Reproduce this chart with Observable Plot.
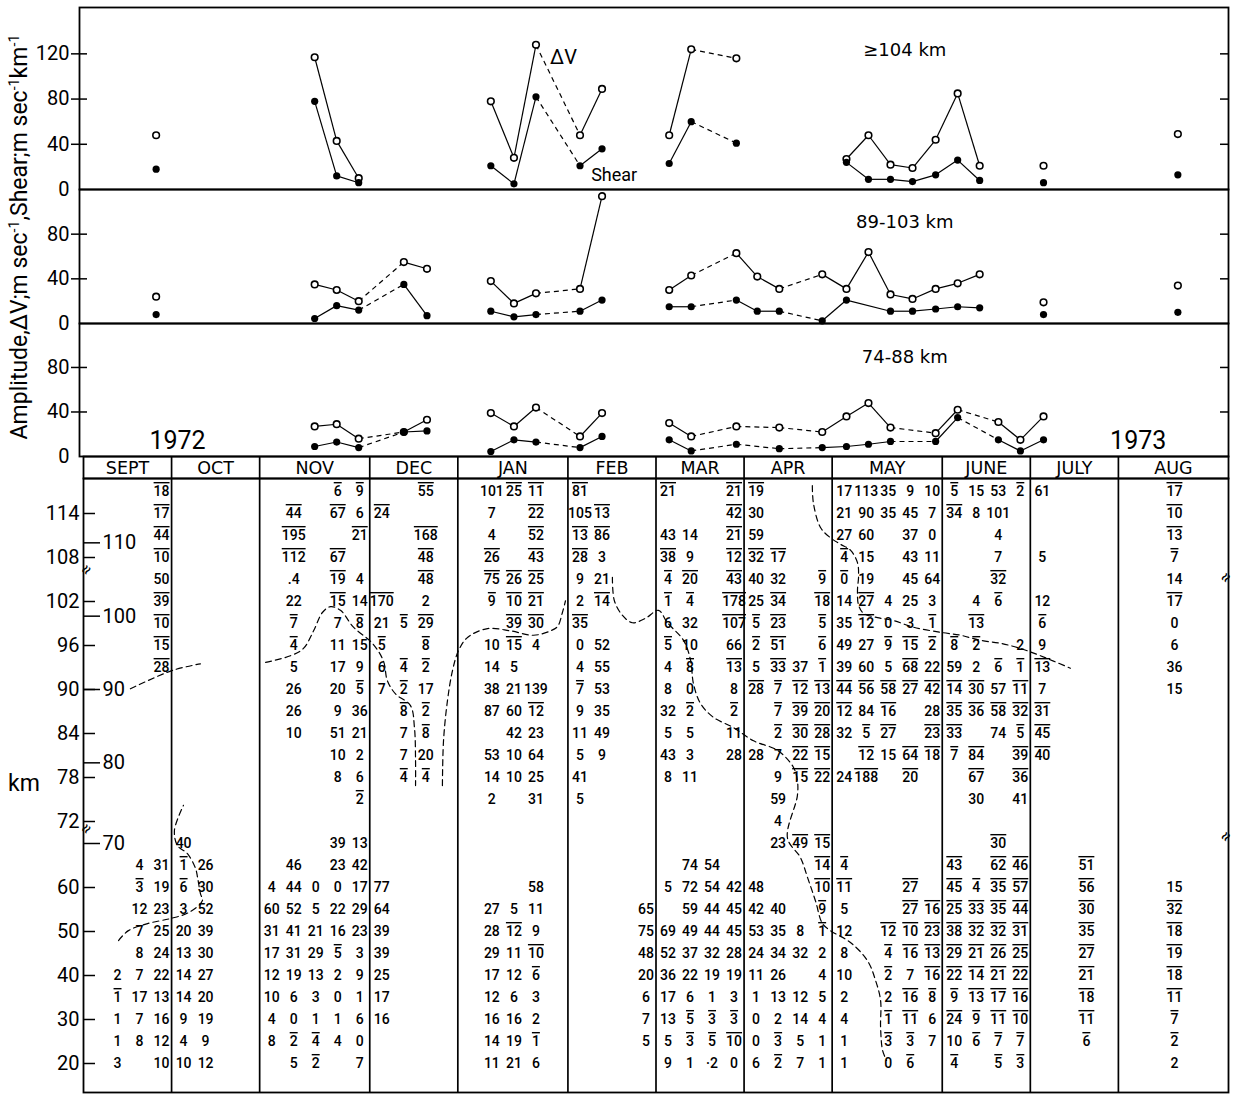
<!DOCTYPE html>
<html><head><meta charset="utf-8">
<script src="https://cdn.jsdelivr.net/npm/d3@7"></script>
<script src="https://cdn.jsdelivr.net/npm/@observablehq/plot@0.6"></script>
<style>
body{margin:0;background:#fff;}
#wrap{position:relative;width:1234px;height:1096px;overflow:hidden;font-family:Roboto,"Liberation Sans",sans-serif;color:#000;}
.layer{position:absolute;left:0;}
#ylab{position:absolute;left:19px;top:237px;transform:translate(-50%,-50%) rotate(-90deg);white-space:nowrap;font-size:23px;line-height:1;}
#ylab sup{font-size:0.62em;vertical-align:0.55em;line-height:0;}
#km{position:absolute;left:8px;top:770px;font-size:23px;}
</style></head><body><div id="wrap">
<div id="ylab">Amplitude,ΔV;m sec<sup>-1</sup>,Shear;m sec<sup>-1</sup>km<sup>-1</sup></div>
<div id="km">km</div>
</div>
<script>
// ---------- top panels: observation dates (in week units, Sept 1972 = week 0) ----------
const obsWeek = [3.3, 10.5, 11.5, 12.5, 14.55, 15.6, 18.5, 19.55, 20.55, 22.55, 23.55, 26.6, 27.6, 29.65, 30.6, 31.6, 33.55, 34.65, 35.65, 36.65, 37.65, 38.7, 39.7, 40.7, 41.55, 42.55, 43.6, 49.7];
const _ = null;
const dv104    = [48, 117, 43, 10, _, _, 78, 28, 128, 48, 89, 48, 124, 116, _, _, _, 27, 48, 22, 19, 44, 85, 21, _, _, 21, 49];
const shear104 = [18, 78, 12, 6, _, _, 21, 5, 82, 21, 36, 23, 60, 41, _, _, _, 24, 9, 9, 7, 13, 26, 8, _, _, 6, 13];
const dv89     = [24, 35, 30, 20, 55, 49, 38, 18, 27, 31, 114, 30, 43, 63, 42, 31, 44, 31, 64, 26, 22, 31, 36, 44, _, _, 19, 34];
const shear89  = [8, 4.5, 16, 12, 35, 7, 11, 6, 8, 11, 21, 15, 15, 21, 11, 11, 2.4, 21, _, 11, 11, 13, 15, 14, _, _, 8, 10];
const dv74     = [_, 27, 29, 16, 22, 33, 39, 27, 44, 18, 39, 30, 18, 27, _, 26, 22, 36, 48, 26, _, 21, 42, _, 31, 15, 36, _];
const shear74  = [_, 9, 13, 8, 22, 23, 4.5, 15, 13, 8, 18, 15, 5, 11, _, 7, 8, 9, 11, 13.5, _, 13.5, 35, _, 15, 5, 15, _];
const panelTitles = ["≥104 km", "89-103 km", "74-88 km"];
const panelTitleWeek = 37.3;
const ticks104 = [0, 40, 80, 120];
const ticksLow = [0, 40, 80];
const seriesLabels = [{w: 21.8, v: 117, text: "ΔV", size: 20}, {w: 24.1, v: 12.5, text: "Shear", size: 18}];
const yearLabels = [{w: 4.27, v: 13.5, text: "1972", size: 25}, {w: 47.9, v: 14.3, text: "1973", size: 25}];

// ---------- table ----------
const months = ["SEPT","OCT","NOV","DEC","JAN","FEB","MAR","APR","MAY","JUNE","JULY","AUG"];
const monthStart = [0, 4, 8, 13, 17, 22, 26, 30, 34, 39, 43, 47];
const monthEnd   = [4, 8, 13, 17, 22, 26, 30, 34, 39, 43, 47, 52];
const tableKm = [117,114,111,108,105,102,99,96,93,90,87,84,81,78,75,72,70,65,60,55,50,45,40,35,30,25,20];
// "week:value", ^ = overbarred value
const tableCells = [
 "3:^18 11:^6 12:^9 15:^55 18:101 19:^25 20:^11 22:^81 26:^21 29:^21 30:^19 34:17 35:113 36:35 37:9 38:10 39:^5 40:15 41:53 42:^2 43:61 49:^17",
 "3:^17 9:^44 11:^67 12:6 13:^24 18:7 20:^22 22:105 23:^13 29:^42 30:30 34:21 35:90 36:35 37:45 38:7 39:^34 40:8 41:101 49:^10",
 "3:^44 9:^195 12:^21 15:^168 18:4 20:^52 22:^13 23:^86 26:43 27:14 29:^21 30:59 34:27 35:60 37:37 38:0 41:4 49:^13",
 "3:^10 9:^112 11:^67 15:^48 18:^26 20:^43 22:^28 23:3 26:^38 27:9 29:^12 30:^32 31:^17 34:^4 35:15 37:43 38:11 41:7 43:5 49:^7",
 "3:50 9:.4 11:^19 12:4 15:^48 18:^75 19:^26 20:^25 22:9 23:21 26:^4 27:^20 29:^43 30:40 31:32 33:^9 34:^0 35:19 37:45 38:64 41:^32 49:14",
 "3:^39 9:22 11:^15 12:14 13:^170 15:2 18:^9 19:^10 20:^21 22:2 23:^14 26:^1 27:^4 29:^178 30:25 31:^34 33:^18 34:14 35:^27 36:4 37:25 38:3 40:4 41:^6 43:12 49:^17",
 "3:^10 9:^7 11:7 12:^8 13:21 14:^5 15:^29 19:^39 20:^30 22:^35 26:6 27:32 29:^107 30:^5 31:^23 33:^5 34:35 35:^12 36:0 37:3 38:^1 40:^13 43:^6 49:0",
 "3:^15 9:^4 11:11 12:15 13:^5 15:^8 18:10 19:^15 20:4 22:0 23:52 26:^5 27:10 29:66 30:^2 31:^51 33:^6 34:49 35:27 36:^9 37:^15 38:^2 39:^8 40:^2 42:2 43:9 49:6",
 "3:^28 9:5 11:17 12:9 13:6 14:^4 15:^2 18:14 19:5 22:4 23:55 26:4 27:^8 29:^13 30:5 31:^33 32:37 33:^1 34:39 35:60 36:5 37:^68 38:22 39:59 40:2 41:^6 42:^1 43:^13 49:36",
 "9:26 11:20 12:^5 13:7 14:^2 15:17 18:38 19:21 20:139 22:^7 23:53 26:8 27:0 29:8 30:^28 31:^7 32:^12 33:^13 34:^44 35:^56 36:^58 37:^27 38:^42 39:^14 40:^30 41:57 42:^11 43:7 49:15",
 "9:26 11:9 12:36 14:^8 15:^2 18:87 19:60 20:^12 22:9 23:35 26:32 27:^2 29:^2 31:^7 32:^39 33:^20 34:^12 35:84 36:^16 38:28 39:^35 40:^36 41:^58 42:^32 43:^31",
 "9:10 11:51 12:21 14:7 15:^8 19:42 20:23 22:11 23:49 26:5 27:5 29:11 31:^2 32:^30 33:^28 34:32 35:^5 36:^27 38:^23 39:^33 41:74 42:^5 43:^45",
 "11:10 12:2 14:7 15:20 18:53 19:10 20:64 22:5 23:9 26:43 27:3 29:28 30:28 31:7 32:^22 33:^15 35:^12 36:15 37:^64 38:^18 39:^7 40:^84 42:^39 43:^40",
 "11:8 12:6 14:^4 15:^4 18:14 19:10 20:25 22:41 26:8 27:11 31:9 32:^15 33:^22 34:24 35:^188 37:^20 40:^67 42:^36",
 "12:^2 18:2 20:31 22:5 31:59 40:30 42:41",
 "31:4",
 "4:40 11:39 12:13 31:23 32:^49 33:^15 41:^30",
 "2:4 3:31 4:^1 5:26 9:46 11:23 12:42 27:74 28:54 33:^14 34:^4 39:^43 41:^62 42:^46 45:^51",
 "2:^3 3:19 4:^6 5:30 8:4 9:44 10:0 11:0 12:17 13:77 20:58 26:5 27:72 28:54 29:42 30:48 33:^10 34:^11 37:^27 39:^45 40:^4 41:^35 42:^57 45:^56 49:15",
 "2:12 3:23 4:3 5:52 8:60 9:52 10:5 11:22 12:29 13:64 18:27 19:5 20:11 25:65 27:59 28:44 29:45 30:42 31:40 33:^9 34:5 37:^27 38:^16 39:^25 40:^33 41:^35 42:^44 45:^30 49:^32",
 "2:7 3:25 4:20 5:39 8:31 9:41 10:21 11:16 12:23 13:39 18:28 19:^12 20:9 25:75 26:69 27:49 28:44 29:45 30:53 31:35 32:8 33:^1 34:12 36:^12 37:^10 38:^23 39:^38 40:^32 41:^32 42:^31 45:^35 49:^18",
 "2:8 3:24 4:13 5:30 8:17 9:31 10:29 11:^5 12:3 13:39 18:29 19:11 20:^10 25:48 26:52 27:37 28:32 29:28 30:24 31:34 32:32 33:2 34:8 36:^4 37:^16 38:^13 39:^29 40:^21 41:^26 42:^25 45:^27 49:^19",
 "1:2 2:7 3:22 4:14 5:27 8:12 9:19 10:13 11:2 12:9 13:25 18:17 19:12 20:^6 25:20 26:36 27:22 28:19 29:19 30:11 31:26 33:4 34:10 36:^2 37:7 38:^16 39:^22 40:^14 41:^21 42:^22 45:^21 49:^18",
 "1:^1 2:17 3:13 4:14 5:20 8:10 9:6 10:3 11:0 12:1 13:17 18:12 19:6 20:3 25:6 26:17 27:6 28:1 29:3 30:1 31:13 32:12 33:5 34:2 36:2 37:^16 38:^8 39:^9 40:^13 41:^17 42:^16 45:^18 49:^11",
 "1:1 2:7 3:16 4:9 5:19 8:4 9:0 10:1 11:1 12:6 13:16 18:16 19:16 20:2 25:7 26:13 27:^5 28:^3 29:^3 30:0 31:2 32:14 33:4 34:4 36:^1 37:^11 38:6 39:^24 40:^9 41:^11 42:^10 45:^11 49:^7",
 "1:1 2:8 3:12 4:4 5:9 8:8 9:^2 10:^4 11:4 12:0 18:14 19:19 20:^1 25:5 26:5 27:^3 28:^5 29:^10 30:0 31:^3 32:5 33:1 34:1 36:^3 37:^3 38:7 39:10 40:^6 41:^7 42:^7 45:^6 49:^2",
 "1:3 3:10 4:10 5:12 9:5 10:^2 12:7 18:11 19:21 20:6 26:9 27:1 28:·2 29:0 30:6 31:^2 32:7 33:1 34:1 36:0 37:^6 39:^4 41:^5 42:^3 49:2"
];
const outerTickKm = [114,108,102,96,90,84,78,72,60,50,40,30,20];
const innerTickKm = [110,100,90,80,70];
const breakKm = [105.8, 71];
// dashed boundary curves: [week, km]
const contourA1 = [[2.13,90.1],[4.04,92.6],[5.31,93.5]];
const contourA2 = [[8.27,93.7],[9.4,94.6],[9.99,95.6],[10.45,98.0],[10.85,100.5],[11.22,101.3],[11.67,100.8],[12.26,98.5],[13.12,96.3],[13.62,93.9],[13.8,91.2],[14.17,89.4],[14.85,87.8],[15.03,84.8],[15.08,80.3],[15.08,76.9]];
const contourB = [[16.3,76.9],[16.35,83.0],[16.53,88.5],[16.76,92.6],[17.03,95.3],[17.44,97.1],[18.35,98.3],[19.39,98.0],[20.44,97.4],[21.21,98.0],[21.53,98.6],[21.75,100.5],[21.89,102.1]];
const contourC = [[24.02,105.3],[24.11,102.1],[24.48,100.1],[24.93,99.1],[25.52,99.7],[26.11,100.8],[26.52,99.1],[27.25,96.7],[27.57,94.0],[27.7,90.8],[28.02,88.1],[28.61,86.2],[29.52,84.8],[30.43,83.0],[31.52,81.7],[32.24,79.4],[32.42,77.6],[32.42,75.5],[31.97,70.5],[32.56,66.8],[32.88,62.3],[33.24,57.0],[33.56,51.8],[33.92,50.2],[34.83,47.5],[35.6,43.4],[35.97,38.9],[36.2,34.3],[36.2,28.2],[36.29,23.0],[36.47,20.7]];
const contourD = [[33.1,117.8],[33.15,115.4],[33.47,112.1],[33.92,110.7],[34.38,109.8],[34.83,109.0],[35.15,107.3],[35.2,105.5],[35.15,103.5],[35.2,101.5],[35.42,100.4],[36.06,99.8],[36.78,99.4],[37.69,98.5],[38.92,97.8],[39.83,97.4],[40.74,96.7],[41.64,96.3],[42.55,95.6],[43.46,94.6],[44.82,92.9]];
const contourE = [[1.59,47.95],[2.04,50.2],[2.91,51.8],[3.95,52.95],[4.77,54.3],[5.4,57.0],[5.31,58.6],[5.18,62.3],[5.09,64.3],[4.72,67.7],[4.27,69.5],[4.13,71.2],[4.54,74.2]];

// ---------- helpers ----------
const wrap = document.getElementById("wrap");
function place(node, top) { const d = document.createElement("div"); d.className = "layer"; d.style.top = top + "px"; d.appendChild(node); wrap.appendChild(d); }
const baseStyle = {background: "transparent", overflow: "visible", fontFamily: "Roboto, 'Liberation Sans', sans-serif", color: "black"};
const W = 1234, ML = 79, MR = 6;
const frameW = W - ML - MR;

function segmentsOf(vals, ref) {
  const idx = vals.map((v, i) => v == null ? -1 : i).filter(i => i >= 0);
  const segs = [];
  for (let k = 1; k < idx.length; k++) {
    const i = idx[k - 1], j = idx[k];
    const gap = obsWeek[j] - obsWeek[i];
    if (gap > 2.6) continue;
    let dashed = gap > 1.3;
    if (dashed && ref) for (let m = i + 1; m < j; m++) if (ref[m] != null) dashed = false;
    segs.push({x1: obsWeek[i], y1: vals[i], x2: obsWeek[j], y2: vals[j], dashed});
  }
  return segs;
}

function panel(cfg) {
  const dvPts = obsWeek.map((w, i) => ({w, v: cfg.dv[i]})).filter(d => d.v != null);
  const shPts = obsWeek.map((w, i) => ({w, v: cfg.sh[i]})).filter(d => d.v != null);
  const segs = [...segmentsOf(cfg.dv, null), ...segmentsOf(cfg.sh, cfg.dv)];
  const inner = cfg.ticks.filter(t => t > 0);
  const link = {x1: "x1", y1: "y1", x2: "x2", y2: "y2", stroke: "black", strokeWidth: 1.2};
  return Plot.plot({
    width: W, height: cfg.height, marginLeft: ML, marginRight: MR, marginTop: cfg.marginTop, marginBottom: 0,
    x: {domain: [-0.18, 52], axis: null},
    y: {domain: [0, cfg.yMax], axis: null},
    style: baseStyle,
    marks: [
      Plot.ruleY(inner, {y: d => d, insetLeft: -8, insetRight: frameW - 8, strokeWidth: 1.5}),
      Plot.ruleY(inner, {y: d => d, insetLeft: frameW - 8, strokeWidth: 1.5}),
      Plot.text(cfg.ticks, {y: d => d, text: d => String(d), frameAnchor: "left", dx: -10, textAnchor: "end", fontSize: 20}),
      Plot.link(segs.filter(s => !s.dashed), link),
      Plot.link(segs.filter(s => s.dashed), {...link, strokeDasharray: "5,4"}),
      Plot.dot(dvPts, {x: "w", y: "v", r: 3.3, fill: "white", stroke: "black", strokeWidth: 1.6}),
      Plot.dot(shPts, {x: "w", y: "v", r: 3.6, fill: "black", stroke: "none"}),
      Plot.text([cfg.title], {x: () => panelTitleWeek, text: d => d, frameAnchor: "top", dy: cfg.titleDy, fontSize: 18, fontFamily: "DejaVu Sans"}),
      Plot.text(cfg.labels || [], {x: "w", y: "v", text: "text", fontSize: d => d.size}),
      Plot.frame({stroke: "black", strokeWidth: 1.8})
    ]
  });
}

place(panel({dv: dv104, sh: shear104, title: panelTitles[0], height: 189, marginTop: 7, yMax: 161, ticks: ticks104, titleDy: 36, labels: seriesLabels}), 0);
place(panel({dv: dv89, sh: shear89, title: panelTitles[1], height: 134, marginTop: 0, yMax: 120, ticks: ticksLow, titleDy: 26}), 189);
place(panel({dv: dv74, sh: shear74, title: panelTitles[2], height: 133, marginTop: 0, yMax: 119.5, ticks: ticksLow, titleDy: 27, labels: yearLabels}), 323);

// ---------- header ----------
const boundaries = monthStart.slice(1);
place(Plot.plot({
  width: W, height: 22, marginLeft: 83, marginRight: MR, marginTop: 0, marginBottom: 0,
  x: {domain: [0, 52], axis: null}, y: {axis: null},
  style: baseStyle,
  marks: [
    Plot.ruleX(boundaries, {x: d => d, strokeWidth: 1.7}),
    Plot.text(months, {x: (d, i) => (monthStart[i] + monthEnd[i]) / 2, text: d => d, frameAnchor: "middle", fontSize: 17.5, fontFamily: "DejaVu Sans", dy: 1}),
    Plot.frame({stroke: "black", strokeWidth: 1.8})
  ]
}), 456);

// ---------- table body ----------
function rowOf(km) { return km >= 72 ? (117 - km) / 3 : km >= 70 ? 15 + (72 - km) / 2 : 16 + (70 - km) / 5; }
const cells = [];
tableKm.forEach((km, r) => tableCells[r].split(/\s+/).filter(Boolean).forEach(tok => {
  const k = tok.indexOf(":");
  const w = +tok.slice(0, k), v = tok.slice(k + 1);
  const bar = v.startsWith("^");
  cells.push({km, w, text: bar ? v.slice(1) : v, bar});
}));
const contours = [contourA1, contourA2, contourB, contourC, contourD, contourE]
  .flatMap((c, id) => c.map(([w, km]) => ({id, w, km})));
const bodyW = W - 83 - MR;
const cellOpts = {x: d => d.w + 0.5, y: d => rowOf(d.km), text: "text", fontSize: 14, fontWeight: 500, dx: 1};
const body = Plot.plot({
  width: W, height: 618, marginLeft: 83, marginRight: MR, marginTop: 0, marginBottom: 4,
  x: {domain: [0, 52], axis: null},
  y: {domain: [0, 26], range: [13, 585], axis: null},
  style: baseStyle,
  marks: [
    Plot.ruleX(boundaries, {x: d => d, strokeWidth: 1.7}),
    Plot.ruleY(outerTickKm, {y: d => rowOf(d), insetRight: bodyW - 12, strokeWidth: 1.5}),
    Plot.text(outerTickKm, {y: d => rowOf(d), text: d => String(d), frameAnchor: "left", dx: -4, textAnchor: "end", fontSize: 20}),
    Plot.ruleY(innerTickKm, {y: d => rowOf(d), insetRight: bodyW - 17, strokeWidth: 1.5}),
    Plot.text(innerTickKm, {y: d => rowOf(d), text: d => String(d), frameAnchor: "left", dx: 19, textAnchor: "start", fontSize: 20}),
    Plot.line(contours, {x: "w", y: d => rowOf(d.km), z: "id", curve: "catmull-rom", stroke: "black", strokeWidth: 1.2, strokeDasharray: "6,4"}),
    Plot.text(cells.filter(c => !c.bar), cellOpts),
    Plot.text(cells.filter(c => c.bar), {...cellOpts, ariaLabel: () => "overbar"}),
    Plot.text(breakKm, {y: d => rowOf(d), text: () => "≈", frameAnchor: "left", rotate: -55, fontSize: 17}),
    Plot.text(breakKm, {y: d => rowOf(d), text: () => "≈", frameAnchor: "right", rotate: -55, fontSize: 17}),
    Plot.frame({stroke: "black", strokeWidth: 1.8})
  ]
});
body.querySelectorAll('text[aria-label="overbar"]').forEach(t => {
  t.style.textDecoration = "overline";
  t.style.textDecorationThickness = "1px";
});
place(body, 478);
</script></body></html>
